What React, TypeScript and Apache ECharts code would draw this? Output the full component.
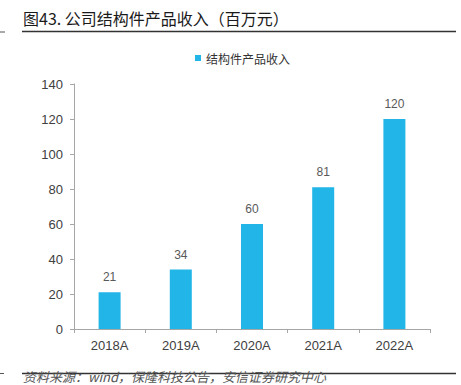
import React, { useEffect, useRef } from "react";
import * as echarts from "echarts";

const categories = ["2018A", "2019A", "2020A", "2021A", "2022A"];
const revenue = [21, 34, 60, 81, 120];
const seriesName = "结构件产品收入";
const titleText = "图43. 公司结构件产品收入（百万元）";
const sourceText = "资料来源：wind，保隆科技公告，安信证券研究中心";
const yMax = 140;
const yInterval = 20;

export default function App() {
  const ref = useRef<HTMLDivElement>(null);
  useEffect(() => {
    document.body.style.margin = "0";
    const chart = echarts.init(ref.current!, null, { renderer: "svg" });
    const cjk = "'Noto Sans CJK SC', 'Liberation Sans', sans-serif";
    chart.setOption({
      animation: false,
      backgroundColor: "#ffffff",
      grid: { left: 74, right: 31, top: 84, bottom: 56 },
      legend: {
        left: 190,
        top: 47,
        itemWidth: 6,
        itemHeight: 6,
        itemGap: 10,
        icon: "rect",
        textStyle: { fontFamily: cjk, fontSize: 12, color: "#333" },
        data: [seriesName],
      },
      xAxis: {
        type: "category",
        data: categories,
        axisLine: { lineStyle: { color: "#a6a6a6" } },
        axisTick: { show: true, length: 4, alignWithLabel: false, lineStyle: { color: "#a6a6a6" } },
        axisLabel: {
          margin: 10,
          fontFamily: "'Liberation Sans Narrow', 'Liberation Sans', sans-serif",
          fontSize: 13,
          color: "#404040",
        },
      },
      yAxis: {
        type: "value",
        min: 0,
        max: yMax,
        interval: yInterval,
        splitLine: { show: false },
        axisLine: { show: true, lineStyle: { color: "#a6a6a6" } },
        axisTick: { show: true, length: 4, lineStyle: { color: "#a6a6a6" } },
        axisLabel: {
          margin: 11,
          fontFamily: "'Liberation Sans', Arial, sans-serif",
          fontSize: 13,
          color: "#404040",
        },
      },
      series: [
        {
          name: seriesName,
          type: "bar",
          data: revenue,
          barWidth: 22,
          itemStyle: { color: "#22B5E7" },
          label: {
            show: true,
            position: "top",
            distance: 9,
            fontFamily: "'Liberation Sans', Arial, sans-serif",
            fontSize: 12,
            color: "#595959",
          },
        },
      ],
      graphic: [
        {
          type: "text",
          left: 23,
          top: 10,
          style: { text: titleText, fontFamily: cjk, fontSize: 16, fill: "#1a1a1a" },
        },
        {
          type: "line",
          shape: { x1: 22, y1: 31.5, x2: 456, y2: 31.5 },
          style: { stroke: "#333", lineWidth: 1.5 },
        },
        {
          type: "line",
          shape: { x1: 0, y1: 32, x2: 5, y2: 32 },
          style: { stroke: "#555", lineWidth: 1 },
        },
        {
          type: "line",
          shape: { x1: 22, y1: 373.5, x2: 456, y2: 373.5 },
          style: { stroke: "#333", lineWidth: 1.5 },
        },
        {
          type: "line",
          shape: { x1: 0, y1: 373.5, x2: 4, y2: 373.5 },
          style: { stroke: "#555", lineWidth: 1 },
        },
        {
          type: "text",
          left: 23,
          top: 370,
          style: {
            text: sourceText,
            fontFamily: cjk,
            fontSize: 13,
            fontStyle: "italic",
            fill: "#555",
          },
        },
      ],
    });
    return () => chart.dispose();
  }, []);
  return (
    <div
      ref={ref}
      style={{ position: "absolute", left: 0, top: 0, width: 461, height: 385 }}
    />
  );
}
